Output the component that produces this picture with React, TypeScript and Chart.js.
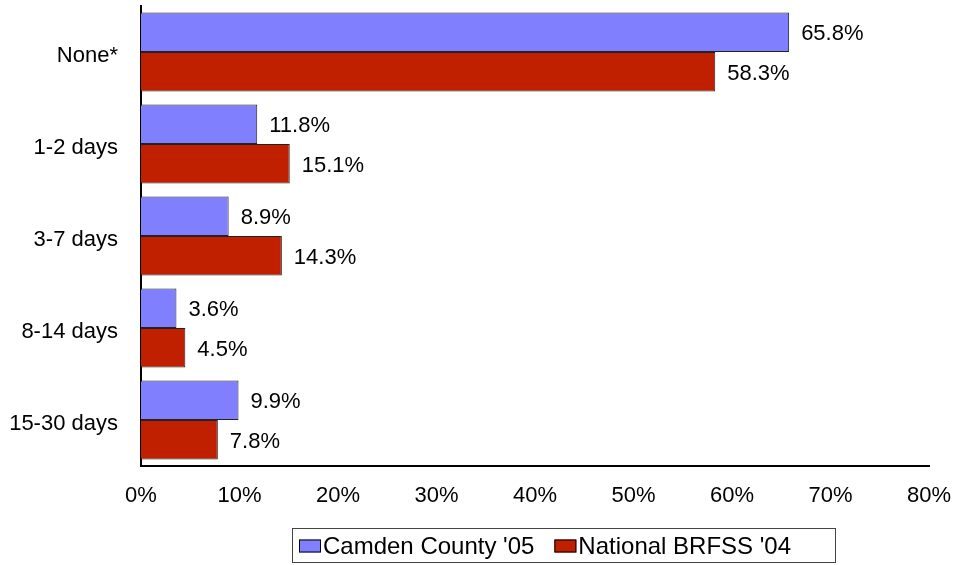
import React, { useEffect, useRef } from "react";
import { Chart, registerables } from "chart.js";

Chart.register(...registerables);

const categories = ["None*", "1-2 days", "3-7 days", "8-14 days", "15-30 days"];
const camden = [65.8, 11.8, 8.9, 3.6, 9.9];
const national = [58.3, 15.1, 14.3, 4.5, 7.8];
const seriesLabels = ["Camden County '05", "National BRFSS '04"];
const xTicks = [0, 10, 20, 30, 40, 50, 60, 70, 80];

const FONT = "'Liberation Sans', Arial, sans-serif";
const BLUE = "#8080FF";
const RED = "#C02000";

const valueLabels = {
  id: "valueLabels",
  afterDatasetsDraw(chart: any) {
    const ctx = chart.ctx;
    ctx.save();
    ctx.font = `22px ${FONT}`;
    ctx.fillStyle = "#000";
    ctx.textBaseline = "middle";
    ctx.textAlign = "left";
    chart.data.datasets.forEach((ds: any, i: number) => {
      const meta = chart.getDatasetMeta(i);
      meta.data.forEach((bar: any, j: number) => {
        ctx.fillText(ds.data[j].toFixed(1) + "%", bar.x + 12, bar.y + 2);
      });
    });
    ctx.restore();
  },
};

const boxLegend = {
  id: "boxLegend",
  afterDraw(chart: any) {
    const ctx = chart.ctx;
    ctx.save();
    const left = 292.5, top = 528.5, w = 543, h = 34;
    ctx.strokeStyle = "#444";
    ctx.lineWidth = 1;
    ctx.strokeRect(left, top, w, h);
    ctx.font = `24px ${FONT}`;
    ctx.textBaseline = "middle";
    ctx.textAlign = "left";
    let x = left + 6.5;
    const cy = top + h / 2 + 1;
    chart.data.datasets.forEach((ds: any) => {
      ctx.fillStyle = ds.backgroundColor;
      ctx.fillRect(x, cy - 7, 22, 13);
      ctx.strokeStyle = "#000";
      ctx.strokeRect(x + 0.5, cy - 6.5, 21, 12);
      x += 24;
      ctx.fillStyle = "#000";
      ctx.fillText(ds.label, x, cy + 1);
      x += ctx.measureText(ds.label).width + 20;
    });
    ctx.restore();
  },
};

export default function App() {
  const ref = useRef<HTMLCanvasElement>(null);
  useEffect(() => {
    if (!ref.current) return;
    const chart = new Chart(ref.current, {
      type: "bar",
      data: {
        labels: categories,
        datasets: [
          { label: seriesLabels[0], data: camden, backgroundColor: BLUE, borderColor: "#222", borderWidth: 1, categoryPercentage: 0.86, barPercentage: 1 },
          { label: seriesLabels[1], data: national, backgroundColor: RED, borderColor: "#222", borderWidth: 1, categoryPercentage: 0.86, barPercentage: 1 },
        ],
      },
      options: {
        indexAxis: "y",
        animation: false,
        responsive: false,
        layout: { padding: { top: 6, right: 26, left: 0, bottom: 0 } },
        plugins: { legend: { display: false }, tooltip: { enabled: false } },
        scales: {
          x: {
            min: 0,
            max: 80,
            afterBuildTicks(scale: any) {
              scale.ticks = xTicks.map((v) => ({ value: v }));
            },
            afterFit(scale: any) {
              scale.height = 99;
              scale.paddingLeft = 0;
              scale.paddingRight = 0;
              scale.paddingTop = 0;
              scale.paddingBottom = 0;
            },
            grid: { display: false, drawTicks: false },
            border: { display: true, color: "#000", width: 2 },
            ticks: {
              padding: 17,
              color: "#000",
              font: { family: FONT, size: 22 },
              callback: (v: any) => v + "%",
            },
          },
          y: {
            afterFit(scale: any) {
              scale.width = 141;
              scale.paddingLeft = 0;
              scale.paddingRight = 0;
              scale.paddingTop = 0;
              scale.paddingBottom = 0;
            },
            grid: { display: false, drawTicks: false },
            border: { display: true, color: "#000", width: 2 },
            ticks: {
              padding: 23,
              labelOffset: 4,
              color: "#000",
              font: { family: FONT, size: 22 },
            },
          },
        },
      },
      plugins: [valueLabels, boxLegend],
    });
    return () => chart.destroy();
  }, []);
  return (
    <div style={{ position: "absolute", left: 0, top: 0, width: 955, height: 565, background: "#fff" }}>
      <canvas ref={ref} width={955} height={565} style={{ width: 955, height: 565 }} />
    </div>
  );
}
